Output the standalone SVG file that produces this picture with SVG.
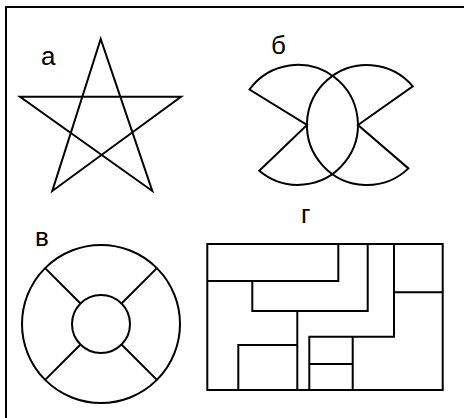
<svg xmlns="http://www.w3.org/2000/svg" width="464" height="418" viewBox="0 0 464 418">
<style>
.s{fill:none;stroke:#000;stroke-width:2;stroke-linejoin:miter}
.t{font-family:"Liberation Sans",Arial,sans-serif;font-size:26px;fill:#000}
</style>
<rect width="464" height="418" fill="#fff"/>
<g id="frame"><path class="s" d="M6,418 V7 H464"/></g>
<g id="star">
<path class="s" d="M100.7,39 L52.3,191 L181,96.7 L20,96.7 L152.3,191 Z"/>
<text class="t" x="41" y="65">а</text>
</g>
<g id="fig-b">
<path class="s" d="M249.5,89.5 A60,60 0 1 1 259.3,170.8 L307,125 Z"/>
<path class="s" d="M412.8,86.3 A60,60 0 1 0 408.4,168.4 L358,125 Z"/>
<text class="t" x="271" y="54">б</text>
</g>
<g id="fig-v">
<circle class="s" cx="101" cy="324" r="79"/>
<circle class="s" cx="101" cy="324" r="29"/>
<path class="s" d="M45.1,268.1 L80.5,303.5 M156.9,268.1 L121.5,303.5 M45.1,379.9 L80.5,344.5 M156.9,379.9 L121.5,344.5"/>
<text class="t" x="35" y="246">в</text>
</g>
<g id="fig-g">
<rect class="s" x="207.3" y="244" width="235.4" height="146"/>
<path class="s" d="M207.3,281 H338.3 V244 M367.7,244 V311 H252.3 V281 M394,244 V336.7 H309.3 V390 M394,292.3 H442.7 M297.3,311 V390 M238.3,390 V345 H297.3 M352.7,336.7 V390 M309.3,364 H352.7"/>
<text class="t" x="301" y="223">г</text>
</g>
</svg>
